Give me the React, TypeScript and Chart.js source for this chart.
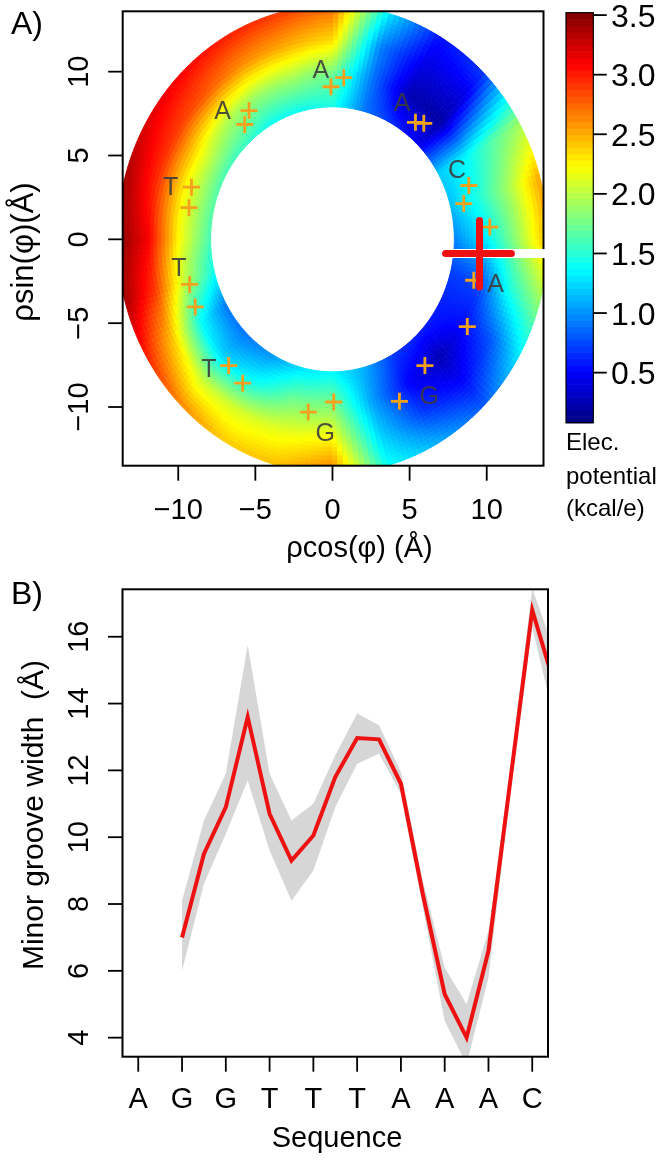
import React, { useEffect, useRef } from 'react';
import { Chart, registerables } from 'chart.js';

Chart.register(...registerables);

const FONT = '"Liberation Sans", Arial, Helvetica, sans-serif';

// ---------------- Panel A data ----------------
// angular nodes (degrees, counter-clockwise from +x) and radial nodes (Å)
const ringAngles = [0, 15, 30, 45, 60, 75, 90, 105, 120, 135, 150, 165, 180, 195, 210, 225, 240, 255, 270, 285, 300, 315, 330, 345];
const ringRadii = [7.9, 9.9, 11.9, 13.95];
// electrostatic potential (kcal/e) at each radial node, per angle
const potentialR1 = [0.95, 1.15, 1.2, 0.45, 0.65, 0.9, 1.45, 1.4, 1.4, 1.55, 1.6, 1.65, 1.6, 1.4, 0.9, 0.9, 1.0, 1.25, 1.35, 1.1, 0.7, 0.6, 0.6, 0.7];
const potentialR2 = [1.3, 1.5, 1.35, 0.2, 0.25, 0.9, 1.75, 1.9, 1.9, 2.0, 2.2, 2.2, 2.2, 2.0, 1.4, 1.2, 1.4, 1.75, 1.8, 1.05, 0.5, 0.25, 0.55, 0.75];
const potentialR3 = [1.85, 1.95, 1.65, 0.4, 0.4, 0.95, 2.35, 2.5, 2.6, 2.8, 2.9, 2.95, 3.1, 2.9, 2.4, 2.05, 2.1, 2.15, 2.25, 1.2, 0.7, 0.5, 0.8, 1.45];
const potentialR4 = [2.5, 2.55, 1.9, 0.7, 0.55, 1.3, 2.75, 2.9, 3.0, 3.1, 3.2, 3.4, 3.5, 3.4, 3.0, 2.65, 2.4, 2.45, 2.7, 1.4, 1.1, 0.8, 1.3, 1.9];

// phosphate / site markers
const siteX = [-5.41, -5.69, -9.14, -9.3, -9.26, -8.9, -6.73, -5.82, -1.57, 0.08, 4.34, 5.99, 8.74, 9.16, 10.2, 8.51, 8.84, 5.38, 5.92, -0.1, 0.73];
const siteY = [7.68, 6.85, 3.11, 1.89, -2.69, -4.03, -7.53, -8.58, -10.3, -9.7, -9.66, -7.53, -5.2, -2.44, 0.73, 2.13, 3.21, 6.98, 6.92, 9.1, 9.64];

// base letters
const baseLabels = ['A', 'A', 'T', 'T', 'T', 'G', 'G', 'A', 'C', 'A'];
const baseX = [-0.76, -7.13, -10.49, -9.95, -8.02, -0.47, 6.27, 10.57, 8.08, 4.51];
const baseY = [10.16, 7.68, 3.17, -1.69, -7.67, -11.48, -9.31, -2.64, 4.21, 8.17];

// reference cross and white axis line
const crossHX = [7.33, 11.6];
const crossHY = [-0.85, -0.85];
const crossVX = [9.53, 9.53];
const crossVY = [1.13, -2.84];
const refLineX = [7.33, 14.6];
const refLineY = [-0.85, -0.85];

const ringTicks = [-10, -5, 0, 5, 10];
const potentialTicks = [0.5, 1.0, 1.5, 2.0, 2.5, 3.0, 3.5];
const potentialMin = 0.08;
const potentialMax = 3.52;

// ---------------- Panel B data ----------------
const seqLabels = ['A', 'G', 'G', 'T', 'T', 'T', 'A', 'A', 'A', 'C'];
const seqPos = [1, 2, 3, 4, 5, 6, 7, 8, 9, 10];
const grooveX = [2, 2.5, 3, 3.5, 4, 4.5, 5, 5.5, 6, 6.5, 7, 7.5, 8, 8.5, 9, 9.5, 10, 10.5];
const grooveMean = [7.0, 9.5, 10.9, 13.6, 10.7, 9.3, 10.05, 11.8, 12.97, 12.93, 11.6, 8.3, 5.3, 4.0, 6.6, 11.7, 16.8, 14.6];
const grooveUpper = [8.1, 10.5, 11.9, 15.75, 11.9, 10.5, 11.0, 12.45, 13.7, 13.35, 11.95, 8.7, 6.1, 5.0, 7.2, 12.1, 17.45, 15.6];
const grooveLower = [6.0, 8.6, 10.1, 11.7, 9.6, 8.1, 9.0, 10.9, 12.2, 12.5, 11.3, 7.9, 4.5, 3.2, 5.8, 11.3, 16.3, 13.5];
const grooveTicks = [4, 6, 8, 10, 12, 14, 16];

const RED = '#ee1111';
const ORANGE = '#f4a11d';
const MINUS = '\u2212';

function fmt(v: number) {
  return v < 0 ? MINUS + String(Math.abs(v)) : String(v);
}

function jet(v: number) {
  let t = (v - potentialMin) / (potentialMax - potentialMin);
  t = Math.max(0, Math.min(1, t));
  const c = (k: number) => Math.max(0, Math.min(1, 1.5 - Math.abs(4 * t - k)));
  return `rgb(${Math.round(c(3) * 255)},${Math.round(c(2) * 255)},${Math.round(c(1) * 255)})`;
}

function drawText(ctx: CanvasRenderingContext2D, s: string, x: number, y: number, size: number, align: CanvasTextAlign = 'center', rot = 0, color = '#000') {
  ctx.save();
  ctx.translate(x, y);
  if (rot) ctx.rotate(rot);
  ctx.font = `${size}px ${FONT}`;
  ctx.textAlign = align;
  ctx.textBaseline = 'alphabetic';
  ctx.fillStyle = color;
  ctx.fillText(s, 0, 0);
  ctx.restore();
}

const ringPlugin = {
  id: 'ringHeat',
  beforeDatasetsDraw(chart: any) {
    const { ctx, chartArea: a } = chart;
    const xs = chart.scales.x;
    const ys = chart.scales.y;
    const rows = [potentialR1, potentialR2, potentialR3, potentialR4];
    const nA = ringAngles.length;
    const SA = 10;
    const SR = 8;
    ctx.save();
    ctx.beginPath();
    ctx.rect(a.left, a.top, a.right - a.left, a.bottom - a.top);
    ctx.clip();
    ctx.lineWidth = 1;
    const pt = (r: number, deg: number) => {
      const th = (deg * Math.PI) / 180;
      return [xs.getPixelForValue(r * Math.cos(th)), ys.getPixelForValue(r * Math.sin(th))];
    };
    for (let i = 0; i < nA; i++) {
      const a0 = ringAngles[i];
      const a1 = i + 1 < nA ? ringAngles[i + 1] : ringAngles[0] + 360;
      const i1 = (i + 1) % nA;
      for (let j = 0; j < ringRadii.length - 1; j++) {
        const r0 = ringRadii[j];
        const r1 = ringRadii[j + 1];
        const v00 = rows[j][i], v01 = rows[j][i1], v10 = rows[j + 1][i], v11 = rows[j + 1][i1];
        for (let p = 0; p < SA; p++) {
          for (let q = 0; q < SR; q++) {
            const u0 = p / SA, u1 = (p + 1) / SA, w0 = q / SR, w1 = (q + 1) / SR;
            const uc = (u0 + u1) / 2, wc = (w0 + w1) / 2;
            const v = (v00 * (1 - uc) + v01 * uc) * (1 - wc) + (v10 * (1 - uc) + v11 * uc) * wc;
            const d0 = a0 + (a1 - a0) * u0, d1 = a0 + (a1 - a0) * u1;
            const rr0 = r0 + (r1 - r0) * w0, rr1 = r0 + (r1 - r0) * w1;
            const c = jet(v);
            ctx.fillStyle = c;
            ctx.strokeStyle = c;
            const A = pt(rr0, d0), B = pt(rr0, d1), C = pt(rr1, d1), D = pt(rr1, d0);
            ctx.beginPath();
            ctx.moveTo(A[0], A[1]);
            ctx.lineTo(B[0], B[1]);
            ctx.lineTo(C[0], C[1]);
            ctx.lineTo(D[0], D[1]);
            ctx.closePath();
            ctx.fill();
            ctx.stroke();
          }
        }
      }
    }
    ctx.restore();
  },
  afterDatasetsDraw(chart: any) {
    const { ctx } = chart;
    const xs = chart.scales.x;
    const ys = chart.scales.y;
    for (let i = 0; i < baseLabels.length; i++) {
      drawText(ctx, baseLabels[i], xs.getPixelForValue(baseX[i]), ys.getPixelForValue(baseY[i]) + 8.8, 25, 'center', 0, 'rgba(60,60,60,0.9)');
    }
  },
};

const frameAPlugin = {
  id: 'frameA',
  afterDraw(chart: any) {
    const { ctx, chartArea: a } = chart;
    const xs = chart.scales.x;
    const ys = chart.scales.y;
    ctx.save();
    ctx.strokeStyle = '#000';
    ctx.lineWidth = 2;
    ctx.strokeRect(a.left, a.top, a.right - a.left, a.bottom - a.top);
    // white reference line crosses the right border
    const wy = ys.getPixelForValue(refLineY[1]);
    ctx.strokeStyle = '#fff';
    ctx.lineWidth = 9;
    ctx.beginPath();
    ctx.moveTo(a.right - 3, wy);
    ctx.lineTo(a.right + 3, wy);
    ctx.stroke();
    ctx.strokeStyle = '#000';
    ctx.lineWidth = 1.8;
    for (const t of ringTicks) {
      const px = xs.getPixelForValue(t);
      ctx.beginPath();
      ctx.moveTo(px, a.bottom);
      ctx.lineTo(px, a.bottom + 15);
      ctx.stroke();
      drawText(ctx, fmt(t), px, a.bottom + 52.8, 29);
      const py = ys.getPixelForValue(t);
      ctx.beginPath();
      ctx.moveTo(a.left, py);
      ctx.lineTo(a.left - 14.5, py);
      ctx.stroke();
      drawText(ctx, fmt(t), 88, py, 29, 'center', -Math.PI / 2);
    }
    drawText(ctx, '\u03C1cos(\u03C6) (\u00C5)', 359.5, 557, 29);
    drawText(ctx, '\u03C1sin(\u03C6)(\u00C5)', 33, 252, 31, 'center', -Math.PI / 2);
    drawText(ctx, 'A)', 11, 34, 32, 'left');

    // colour bar
    const bx0 = 566, bx1 = 593.3, byTop = 12.7, byBot = 422.7;
    const vy = (v: number) => byBot - ((v - potentialMin) / (potentialMax - potentialMin)) * (byBot - byTop);
    const N = 64;
    for (let k = 0; k < N; k++) {
      const v0 = potentialMin + ((potentialMax - potentialMin) * k) / N;
      const v1 = potentialMin + ((potentialMax - potentialMin) * (k + 1)) / N;
      ctx.fillStyle = jet((v0 + v1) / 2);
      const y0 = vy(v1), y1 = vy(v0);
      ctx.fillRect(bx0, y0, bx1 - bx0, y1 - y0 + 0.6);
    }
    ctx.strokeStyle = '#000';
    ctx.lineWidth = 1.2;
    ctx.strokeRect(bx0, byTop, bx1 - bx0, byBot - byTop);
    ctx.lineWidth = 1.8;
    for (const t of potentialTicks) {
      const py = vy(t);
      ctx.beginPath();
      ctx.moveTo(bx1, py);
      ctx.lineTo(bx1 + 13.5, py);
      ctx.stroke();
      drawText(ctx, t.toFixed(1), 611, py + 11.5, 32, 'left');
    }
    drawText(ctx, 'Elec.', 566, 450, 24, 'left');
    drawText(ctx, 'potential', 566, 484, 24, 'left');
    drawText(ctx, '(kcal/e)', 566, 516, 24, 'left');
    ctx.restore();
  },
};

const frameBPlugin = {
  id: 'frameB',
  afterDraw(chart: any) {
    const { ctx, chartArea: a } = chart;
    const xs = chart.scales.x;
    const ys = chart.scales.y;
    ctx.save();
    ctx.strokeStyle = '#000';
    ctx.lineWidth = 2;
    ctx.strokeRect(a.left, a.top, a.right - a.left, a.bottom - a.top);
    ctx.lineWidth = 1.8;
    seqPos.forEach((p, i) => {
      const px = xs.getPixelForValue(p);
      ctx.beginPath();
      ctx.moveTo(px, a.bottom);
      ctx.lineTo(px, a.bottom + 15);
      ctx.stroke();
      drawText(ctx, seqLabels[i], px, a.bottom + 51.6, 29);
    });
    for (const t of grooveTicks) {
      const py = ys.getPixelForValue(t);
      ctx.beginPath();
      ctx.moveTo(a.left, py);
      ctx.lineTo(a.left - 14.5, py);
      ctx.stroke();
      drawText(ctx, String(t), 88, py, 29, 'center', -Math.PI / 2);
    }
    drawText(ctx, 'Sequence', 337, 1147 - OFFSET_B, 29);
    drawText(ctx, 'Minor groove width  (\u00C5)', 43, 815 - OFFSET_B, 30, 'center', -Math.PI / 2);
    drawText(ctx, 'B)', 11, 604 - OFFSET_B, 32, 'left');
    ctx.restore();
  },
};

const W = 666;
const HEIGHT_A = 575;
const OFFSET_B = 575;
const HEIGHT_B = 1162 - OFFSET_B;

export default function App() {
  const refA = useRef<HTMLCanvasElement>(null);
  const refB = useRef<HTMLCanvasElement>(null);

  useEffect(() => {
    const sites = siteX.map((x, i) => ({ x, y: siteY[i] }));
    const chartA = new Chart(refA.current as HTMLCanvasElement, {
      type: 'scatter',
      data: {
        datasets: [
          {
            type: 'scatter',
            data: sites,
            pointStyle: 'cross',
            pointRadius: 8.5,
            pointHoverRadius: 8.5,
            pointBorderWidth: 2.8,
            pointBorderColor: ORANGE,
            pointBackgroundColor: ORANGE,
            order: 3,
          } as any,
          {
            type: 'line',
            data: refLineX.map((x, i) => ({ x, y: refLineY[i] })),
            borderColor: '#ffffff',
            borderWidth: 9,
            pointRadius: 0,
            borderCapStyle: 'butt',
            order: 2,
          } as any,
          {
            type: 'line',
            data: crossHX.map((x, i) => ({ x, y: crossHY[i] })),
            borderColor: RED,
            borderWidth: 7,
            pointRadius: 0,
            borderCapStyle: 'round',
            order: 1,
          } as any,
          {
            type: 'line',
            data: crossVX.map((x, i) => ({ x, y: crossVY[i] })),
            borderColor: RED,
            borderWidth: 7,
            pointRadius: 0,
            borderCapStyle: 'round',
            order: 1,
          } as any,
        ],
      },
      options: {
        animation: false,
        responsive: false,
        devicePixelRatio: 1,
        events: [],
        plugins: { legend: { display: false }, tooltip: { enabled: false } },
        layout: { padding: { left: 122.7, top: 10.7, right: W - 543.5, bottom: HEIGHT_A - 465.7 } },
        scales: {
          x: { type: 'linear', min: -13.6, max: 13.68, display: false },
          y: { type: 'linear', min: -13.5, max: 13.6, display: false },
        },
      } as any,
      plugins: [ringPlugin, frameAPlugin],
    });

    const chartB = new Chart(refB.current as HTMLCanvasElement, {
      type: 'line',
      data: {
        datasets: [
          {
            data: grooveX.map((x, i) => ({ x, y: grooveLower[i] })),
            borderColor: 'rgba(0,0,0,0)',
            borderWidth: 1,
            pointRadius: 0,
            fill: false,
            clip: 0,
            order: 2,
          },
          {
            data: grooveX.map((x, i) => ({ x, y: grooveUpper[i] })),
            borderColor: 'rgba(0,0,0,0)',
            backgroundColor: '#d6d6d6',
            borderWidth: 1,
            pointRadius: 0,
            fill: '-1',
            clip: 0,
            order: 2,
          },
          {
            data: grooveX.map((x, i) => ({ x, y: grooveMean[i] })),
            borderColor: RED,
            borderWidth: 4,
            pointRadius: 0,
            fill: false,
            clip: 0,
            order: 1,
          },
        ] as any,
      },
      options: {
        animation: false,
        responsive: false,
        devicePixelRatio: 1,
        events: [],
        plugins: { legend: { display: false }, tooltip: { enabled: false } },
        layout: { padding: { left: 122.5, top: 589.3 - OFFSET_B, right: W - 548, bottom: HEIGHT_B - (1056.7 - OFFSET_B) } },
        scales: {
          x: { type: 'linear', min: 0.64, max: 10.36, display: false },
          y: { type: 'linear', min: 3.43, max: 17.42, display: false },
        },
      } as any,
      plugins: [frameBPlugin],
    });

    return () => {
      chartA.destroy();
      chartB.destroy();
    };
  }, []);

  return (
    <div style={{ position: 'absolute', left: 0, top: 0, width: W, height: 1162, background: '#fff' }}>
      <canvas ref={refA} width={W} height={HEIGHT_A} style={{ position: 'absolute', left: 0, top: 0, width: W, height: HEIGHT_A }} />
      <canvas ref={refB} width={W} height={HEIGHT_B} style={{ position: 'absolute', left: 0, top: OFFSET_B, width: W, height: HEIGHT_B }} />
    </div>
  );
}
